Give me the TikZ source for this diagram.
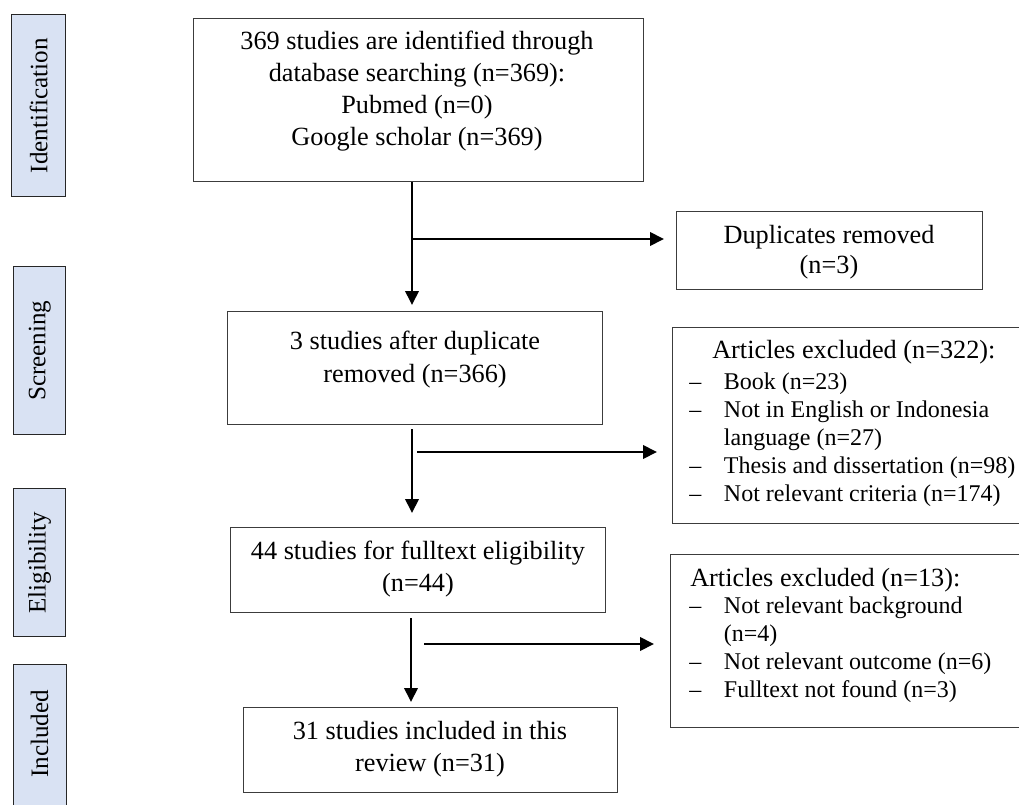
\documentclass[tikz,border=0pt]{standalone}
\usepackage{fontspec}
\setmainfont{Liberation Serif}
\usetikzlibrary{arrows.meta,calc}
\definecolor{phasefill}{HTML}{D9E2F3}
\definecolor{boxedge}{HTML}{3C3C3C}
\newcommand{\pitem}{\makebox[26pt][l]{–}}
\newcommand{\pcont}{\hspace*{26pt}}
\begin{document}
\begin{tikzpicture}[x=0.75pt,y=-0.75pt,
  box/.style={draw=boxedge, line width=1.1pt, inner sep=0pt, anchor=north west},
  phase/.style={box, draw=black!85, fill=phasefill},
  phasetext/.style={rotate=90, inner sep=0pt, font=\fontsize{18.8}{22}\selectfont},
  maintext/.style={inner sep=0pt, align=center, anchor=base, font=\fontsize{19.7}{24}\selectfont},
  listtext/.style={inner sep=0pt, align=left, anchor=base west, font=\fontsize{18}{21}\selectfont},
  arr/.style={line width=2pt, -{Triangle[length=10.5pt,width=10pt]}}
]
\useasboundingbox (0,0) rectangle (1019,805);

% phase labels
\node[phase, minimum width=54*0.75pt, minimum height=182*0.75pt] (pid) at (11,14) {};
\node[phasetext] (pidt) at (pid.center) {Identification};
\node[phase, minimum width=52*0.75pt, minimum height=168*0.75pt] (psc) at (13,266) {};
\node[phasetext] (psct) at (psc.center) {Screening};
\node[phase, minimum width=52*0.75pt, minimum height=148*0.75pt] (pel) at (13,488) {};
\node[phasetext] (pelt) at (pel.center) {Eligibility};
\node[phase, minimum width=53*0.75pt, minimum height=200*0.75pt] (pin) at (13,664) {};
\node[phasetext] (pint) at (13+26.5,664+70) {Included};

% main boxes (text nodes anchored at the baseline of their last line)
\node[box, minimum width=450*0.75pt, minimum height=163*0.75pt] (b1) at (193,18) {};
\node[maintext, font=\fontsize{19.7}{24}\selectfont] (t1) at (417,146)
  {369 studies are identified through\\database searching (n=369):\\Pubmed (n=0)\\Google scholar (n=369)};

\node[box, minimum width=306*0.75pt, minimum height=78*0.75pt] (dup) at (676,211) {};
\node[maintext, font=\fontsize{19.7}{22}\selectfont] (tdup) at (829,273) {Duplicates removed\\(n=3)};

\node[box, minimum width=375*0.75pt, minimum height=113*0.75pt] (b2) at (227,311) {};
\node[maintext, font=\fontsize{19.7}{24.75}\selectfont] (t2) at (415,382) {3 studies after duplicate\\removed (n=366)};

\node[box, minimum width=400*0.75pt, minimum height=196*0.75pt] (ex1) at (672,327) {};
\node[listtext] (tex1h) at (712,358) {\fontsize{19.7}{21}\selectfont Articles excluded (n=322):};
\node[listtext] (tex1) at (689,501)
  {\pitem Book (n=23)\\\pitem Not in English or Indonesia\\\pcont language (n=27)\\\pitem Thesis and dissertation (n=98)\\\pitem Not relevant criteria (n=174)};

\node[box, minimum width=375*0.75pt, minimum height=85*0.75pt] (b3) at (230,527) {};
\node[maintext] (t3) at (418,591) {44 studies for fulltext eligibility\\(n=44)};

\node[box, minimum width=400*0.75pt, minimum height=173*0.75pt] (ex2) at (670,554) {};
\node[listtext] (tex2h) at (690,586) {\fontsize{19.7}{21}\selectfont Articles excluded (n=13):};
\node[listtext] (tex2) at (689,697)
  {\pitem Not relevant background\\\pcont (n=4)\\\pitem Not relevant outcome (n=6)\\\pitem Fulltext not found (n=3)};

\node[box, minimum width=374*0.75pt, minimum height=85*0.75pt] (b4) at (243,707) {};
\node[maintext] (t4) at (430,771) {31 studies included in this\\review (n=31)};

% connectors
\coordinate (c1) at (412,239);
\coordinate (c2) at (412,452);
\coordinate (c3) at (411,644);
\draw[arr] (b1.south -| c1) -- ($(b2.north -| c1)+(0,-6)$);
\draw[arr] (c1) -- ($(c1 -| dup.west)+(-12,0)$);
\draw[arr] ($(b2.south -| c2)+(0,4)$) -- ($(b3.north -| c2)+(0,-14)$);
\draw[arr] ($(c2)+(5,0)$) -- ($(c2 -| ex1.west)+(-15,0)$);
\draw[arr] ($(b3.south -| c3)+(0,5)$) -- ($(b4.north -| c3)+(0,-5)$);
\draw[arr] ($(c3)+(13,0)$) -- ($(c3 -| ex2.west)+(-16,0)$);
\end{tikzpicture}
\end{document}
